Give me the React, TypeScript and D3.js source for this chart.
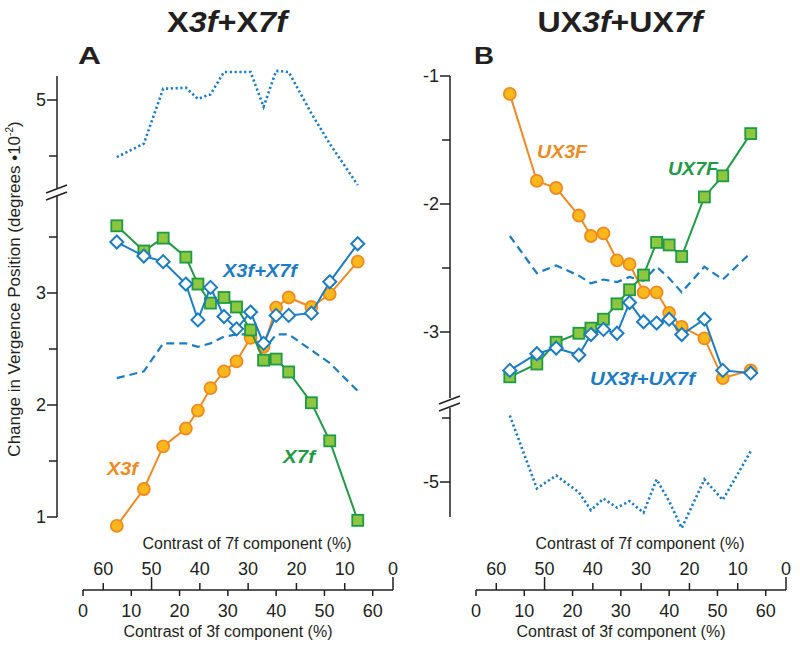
import { useEffect, useRef } from 'react';
import * as d3 from 'd3';

// contrast of the 3f component for each stimulus (7f contrast = 64.2 - 3f)
const contrast3f = [7, 12.6, 16.6, 21.3, 23.8, 26.4, 29.2, 31.8, 34.7, 37.4, 40, 42.6, 47.3, 51.1, 56.9];

// panel A (X3f + X7f)
const x3f = [0.92, 1.25, 1.63, 1.79, 1.95, 2.15, 2.30, 2.39, 2.60, 2.52, 2.87, 2.96, 2.875, 2.99, 3.28];
const x7f = [3.60, 3.375, 3.49, 3.32, 3.08, 2.91, 2.96, 2.875, 2.67, 2.40, 2.41, 2.295, 2.02, 1.68, 0.97];
const xSum = [3.455, 3.33, 3.28, 3.08, 2.76, 3.05, 2.79, 2.68, 2.83, 2.55, 2.80, 2.80, 2.82, 3.10, 3.44];
const xDashed = [2.24, 2.30, 2.55, 2.55, 2.52, 2.55, 2.61, 2.63, 2.63, 2.49, 2.63, 2.63, 2.49, 2.375, 2.125];
const xDotted = [4.49, 4.61, 5.10, 5.11, 5.01, 5.05, 5.25, 5.25, 5.25, 4.94, 5.26, 5.25, 4.88, 4.61, 4.24];

// panel B (UX3f + UX7f)
const ux3f = [-1.14, -1.82, -1.875, -2.09, -2.25, -2.23, -2.44, -2.47, -2.69, -2.69, -2.85, -2.96, -3.05, -3.36, -3.30];
const ux7f = [-3.35, -3.25, -3.08, -3.01, -2.97, -2.90, -2.78, -2.67, -2.555, -2.30, -2.32, -2.41, -1.945, -1.78, -1.45];
const uxSum = [-3.30, -3.17, -3.125, -3.18, -3.02, -2.98, -3.01, -2.77, -2.92, -2.93, -2.90, -3.02, -2.90, -3.30, -3.32];
const uxDashed = [-2.25, -2.54, -2.48, -2.56, -2.62, -2.59, -2.61, -2.57, -2.60, -2.49, -2.58, -2.69, -2.49, -2.59, -2.38];
const uxDotted = [-4.48, -5.05, -4.95, -5.08, -5.22, -5.13, -5.20, -5.15, -5.24, -4.98, -5.15, -5.36, -4.98, -5.14, -4.76];

const ticks3f = [0, 10, 20, 30, 40, 50, 60];
const ticks7f = [60, 50, 40, 30, 20, 10, 0];
const longTicks7f = [50, 0];

const BLUE = '#1b7cc3';
const ORANGE = '#ef8a22';
const ORANGE_FILL = '#fbb81a';
const GREEN = '#1f9a45';
const GREEN_FILL = '#8dc63f';
const INK = '#231f20';
const FONT = '"Liberation Sans", Arial, Helvetica, sans-serif';

const panels = [
    {
        dx: 0,
        letter: 'A', letterX: 78, letterW: 23,
        title: [['X', false], ['3f', true], ['+X', false], ['7f', true]],
        titleX: 227, titleW: 120,
        upper: { domain: [5, 4.5], range: [100, 156], seg: [76, 188], major: [5], minor: [4.5] },
        lower: { domain: [3, 1], range: [293, 517], seg: [196, 517], major: [3, 2, 1], minor: [3.5, 2.5, 1.5] },
        breakY: 189,
        dotted: { data: xDotted, part: 'upper' },
        dashed: { data: xDashed, part: 'lower' },
        main: 'lower',
        s3: x3f, s7: x7f, sum: xSum,
        fmt: (d: number) => `${d}`,
        labels: [
            { text: 'X3f', x: 107, y: 475, w: 31, color: ORANGE },
            { text: 'X7f', x: 283, y: 463, w: 32, color: GREEN },
            { text: 'X3f+X7f', x: 223, y: 277, w: 74, color: BLUE },
        ],
    },
    {
        dx: 393,
        letter: 'B', letterX: 474, letterW: 20,
        title: [['UX', false], ['3f', true], ['+UX', false], ['7f', true]],
        titleX: 620, titleW: 165,
        upper: { domain: [-1, -3], range: [76, 332], seg: [76, 398], major: [-1, -2, -3], minor: [-1.5, -2.5] },
        lower: { domain: [-4.5, -5], range: [418, 482], seg: [408, 517], major: [-5], minor: [-4.5] },
        breakY: 400,
        dotted: { data: uxDotted, part: 'lower' },
        dashed: { data: uxDashed, part: 'upper' },
        main: 'upper',
        s3: ux3f, s7: ux7f, sum: uxSum,
        fmt: (d: number) => `-${Math.abs(d)}`,
        labels: [
            { text: 'UX3F', x: 537, y: 158, w: 50, color: ORANGE },
            { text: 'UX7F', x: 668, y: 175, w: 50, color: GREEN },
            { text: 'UX3f+UX7f', x: 590, y: 385, w: 105, color: BLUE },
        ],
    },
];

const drawPanel = (svg: any, p: any) => {
    const g = svg.append('g');
    const axisX = 57 + p.dx;

    const x = d3.scaleLinear().domain([0, 64.2]).range([83 + p.dx, 393 + p.dx]);
    const x7 = d3.scaleLinear().domain([0, 64.2]).range([393 + p.dx, 83 + p.dx]);
    const yU = d3.scaleLinear().domain(p.upper.domain).range(p.upper.range);
    const yL = d3.scaleLinear().domain(p.lower.domain).range(p.lower.range);
    const scaleOf = (part: string) => (part === 'upper' ? yU : yL);

    // title + panel letter
    const t = g.append('text')
        .attr('x', p.titleX).attr('y', 32)
        .attr('text-anchor', 'middle')
        .attr('font-size', 29).attr('font-weight', 'bold')
        .attr('textLength', p.titleW).attr('lengthAdjust', 'spacingAndGlyphs')
        .attr('fill', INK);
    p.title.forEach(([s, it]: [string, boolean]) => {
        t.append('tspan').attr('font-style', it ? 'italic' : 'normal').text(s);
    });
    g.append('text')
        .attr('x', p.letterX).attr('y', 64)
        .attr('font-size', 24).attr('font-weight', 'bold')
        .attr('textLength', p.letterW).attr('lengthAdjust', 'spacingAndGlyphs')
        .attr('fill', INK)
        .text(p.letter);

    // y axis (broken)
    const axis = g.append('g').attr('stroke', INK).attr('stroke-width', 1.5).attr('fill', 'none');
    [p.upper, p.lower].forEach((part: any, i: number) => {
        const sc = i === 0 ? yU : yL;
        axis.append('line').attr('x1', axisX).attr('x2', axisX).attr('y1', part.seg[0]).attr('y2', part.seg[1]);
        part.major.forEach((v: number) => {
            axis.append('line').attr('x1', axisX - 10).attr('x2', axisX).attr('y1', sc(v)).attr('y2', sc(v));
            g.append('text')
                .attr('x', axisX - 11).attr('y', sc(v)).attr('dy', '0.36em')
                .attr('text-anchor', 'end').attr('font-size', 18).attr('fill', INK)
                .text(p.fmt(v));
        });
        part.minor.forEach((v: number) => {
            axis.append('line').attr('x1', axisX - 8).attr('x2', axisX).attr('y1', sc(v)).attr('y2', sc(v));
        });
    });
    [0, 7].forEach(off => {
        axis.append('line')
            .attr('x1', axisX - 11).attr('y1', p.breakY + off + 4)
            .attr('x2', axisX + 10).attr('y2', p.breakY + off - 4);
    });

    // x axes: 3f below, 7f above
    const axY = 590;
    axis.append('line').attr('x1', x(0)).attr('x2', x(64.2)).attr('y1', axY).attr('y2', axY);
    ticks3f.forEach(v => {
        axis.append('line').attr('x1', x(v)).attr('x2', x(v)).attr('y1', axY).attr('y2', axY + 6);
        g.append('text').attr('x', x(v)).attr('y', 617)
            .attr('text-anchor', 'middle').attr('font-size', 18).attr('fill', INK).text(v);
    });
    ticks7f.forEach(v => {
        const len = longTicks7f.includes(v) ? 13 : 7;
        axis.append('line').attr('x1', x7(v)).attr('x2', x7(v)).attr('y1', axY).attr('y2', axY - len);
        g.append('text').attr('x', x7(v)).attr('y', 575)
            .attr('text-anchor', 'middle').attr('font-size', 18).attr('fill', INK).text(v);
    });
    g.append('text').attr('x', 247 + p.dx).attr('y', 549)
        .attr('text-anchor', 'middle').attr('font-size', 16).attr('fill', INK)
        .text('Contrast of 7f component (%)');
    g.append('text').attr('x', 228 + p.dx).attr('y', 637)
        .attr('text-anchor', 'middle').attr('font-size', 16).attr('fill', INK)
        .text('Contrast of 3f component (%)');

    // dotted & dashed traces
    const lineOf = (sc: any) => d3.line<number>().x((_, i) => x(contrast3f[i])).y(d => sc(d));
    g.append('path')
        .attr('d', lineOf(scaleOf(p.dotted.part))(p.dotted.data))
        .attr('fill', 'none').attr('stroke', BLUE).attr('stroke-width', 2.6)
        .attr('stroke-dasharray', '2.2,2.6');
    g.append('path')
        .attr('d', lineOf(scaleOf(p.dashed.part))(p.dashed.data))
        .attr('fill', 'none').attr('stroke', BLUE).attr('stroke-width', 2.2)
        .attr('stroke-dasharray', '8,5');

    const y = scaleOf(p.main);
    const line = lineOf(y);

    // 3f alone: orange circles
    g.append('path').attr('d', line(p.s3)).attr('fill', 'none').attr('stroke', ORANGE).attr('stroke-width', 2);
    g.selectAll()
        .data(p.s3)
        .enter()
        .append('circle')
        .attr('cx', (_: number, i: number) => x(contrast3f[i]))
        .attr('cy', (d: number) => y(d))
        .attr('r', 6)
        .attr('fill', ORANGE_FILL).attr('stroke', ORANGE).attr('stroke-width', 1.8);

    // 7f alone: green squares
    g.append('path').attr('d', line(p.s7)).attr('fill', 'none').attr('stroke', GREEN).attr('stroke-width', 2);
    g.selectAll()
        .data(p.s7)
        .enter()
        .append('rect')
        .attr('x', (_: number, i: number) => x(contrast3f[i]) - 5.5)
        .attr('y', (d: number) => y(d) - 5.5)
        .attr('width', 11).attr('height', 11)
        .attr('fill', GREEN_FILL).attr('stroke', GREEN).attr('stroke-width', 1.8);

    // compound: blue open diamonds
    g.append('path').attr('d', line(p.sum)).attr('fill', 'none').attr('stroke', BLUE).attr('stroke-width', 2);
    g.selectAll()
        .data(p.sum)
        .enter()
        .append('path')
        .attr('transform', (d: number, i: number) => `translate(${x(contrast3f[i])},${y(d)})`)
        .attr('d', 'M0,-6.5L6.5,0L0,6.5L-6.5,0Z')
        .attr('fill', '#fff').attr('stroke', BLUE).attr('stroke-width', 2);

    // series labels
    p.labels.forEach((l: any) => {
        g.append('text')
            .attr('x', l.x).attr('y', l.y)
            .attr('font-size', 18).attr('font-weight', 'bold').attr('font-style', 'italic')
            .attr('textLength', l.w).attr('lengthAdjust', 'spacingAndGlyphs')
            .attr('fill', l.color)
            .text(l.text);
    });
};

const App = () => {
    const ref = useRef<SVGSVGElement>(null);

    useEffect(() => {
        const svg = d3.select(ref.current);
        svg.selectAll('*').remove();
        svg.append('rect').attr('width', 800).attr('height', 649).attr('fill', '#fff');

        panels.forEach(p => drawPanel(svg, p));

        const yl = svg.append('text')
            .attr('transform', 'translate(20, 289) rotate(-90)')
            .attr('text-anchor', 'middle')
            .attr('font-size', 17)
            .attr('fill', INK);
        yl.append('tspan').text('Change in Vergence Position (degrees •10');
        yl.append('tspan').attr('font-size', 10).attr('dy', -7).text('-2');
        yl.append('tspan').attr('dy', 7).text(')');
    }, []);

    return (
        <svg
            ref={ref}
            width={800}
            height={649}
            style={{ position: 'absolute', left: 0, top: 0, display: 'block', fontFamily: FONT }}
        />
    );
};

export default App;
